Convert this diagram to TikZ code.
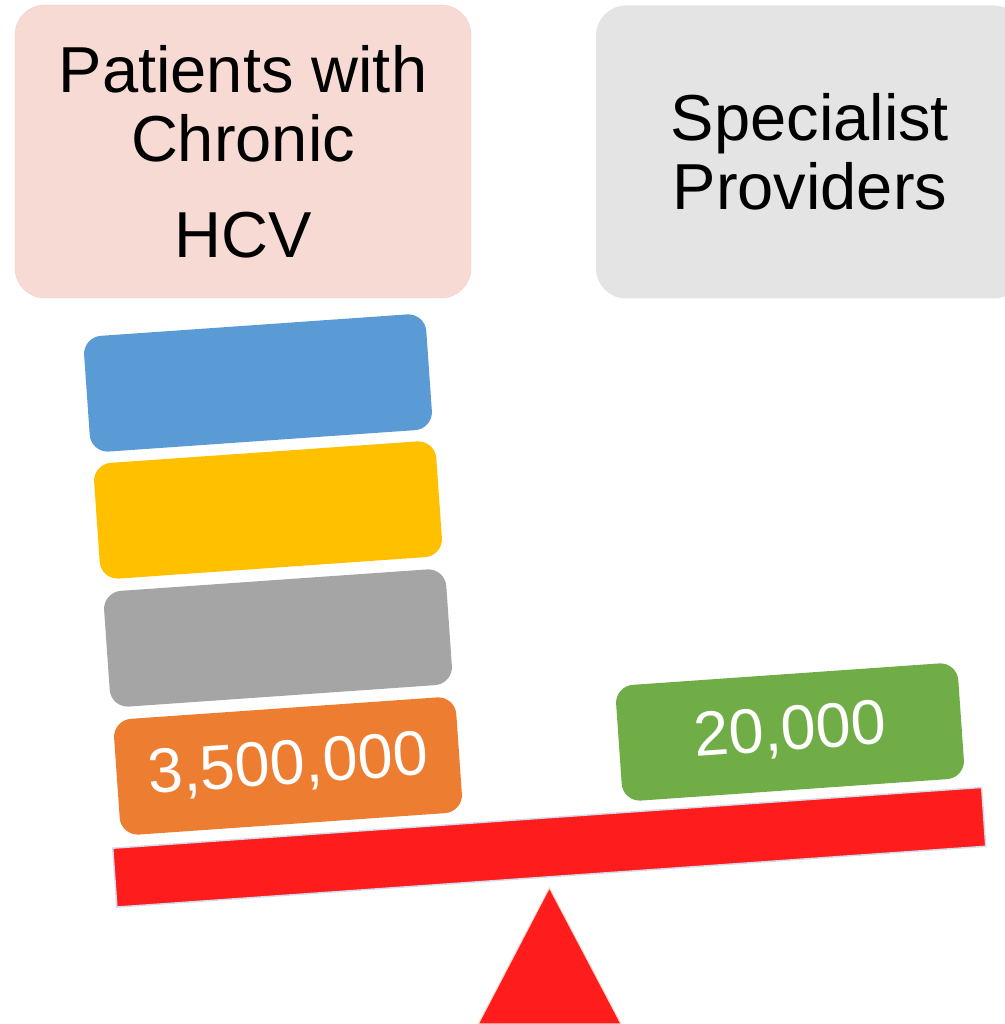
\documentclass[tikz,border=0pt]{standalone}
\usepackage{fontspec}
\setmainfont{Liberation Sans}
\usepackage{tikz}
\usetikzlibrary{positioning}

\definecolor{hdrpink}{HTML}{F8DAD4}
\definecolor{hdrpinkedge}{HTML}{F1CCC4}
\definecolor{hdrgrey}{HTML}{E4E4E4}
\definecolor{blkblue}{HTML}{5B9BD5}
\definecolor{blkyellow}{HTML}{FFC000}
\definecolor{blkgrey}{HTML}{A5A5A5}
\definecolor{blkorange}{HTML}{ED7D31}
\definecolor{blkgreen}{HTML}{70AD47}
\definecolor{beamred}{HTML}{FF1C1C}
\definecolor{beamedge}{HTML}{D3DAE8}
\definecolor{pivotedge}{HTML}{F9D6C4}

\begin{document}
\begin{tikzpicture}[x=1pt,y=1pt,
          hdr/.style={rectangle,rounded corners=30pt,minimum height=293pt,inner sep=0pt,align=center,font=\fontsize{65}{69}\selectfont},
          blk/.style={rectangle,rounded corners=18pt,minimum width=343pt,minimum height=116pt,inner sep=0pt,rotate=4,text=white,font=\fontsize{63}{70}\selectfont},
          beam/.style={rectangle,minimum width=871pt,minimum height=59pt,inner sep=0pt,rotate=4,fill=beamred,draw=beamedge,line width=1.5pt}
        ]
        \useasboundingbox (0,0) rectangle (1004,1024);
        \node[hdr,fill=hdrpink,draw=hdrpinkedge,minimum width=456pt] (patients) at (243,872.5) {Patients with\\Chronic\\[27pt]HCV};
        \node[hdr,fill=hdrgrey,minimum width=428pt] (providers) at (810,872) {Specialist\\Providers};
        \foreach\name/\col/\cx/\cy in {blue/blkblue/258/641,yellow/blkyellow/268/514,grey/blkgrey/278/386}{
          \node[blk,fill=\col] (\name) at (\cx,\cy) {};
        }
        \node[blk,fill=blkorange] (orange) at (288,258) {3,500,000};
        \node[blk,fill=blkgreen] (green) at (790,292) {20,000};
        \node[beam] (lever) at (549.25,176.75) {};
        \coordinate (apex) at (549.4,136);
        \fill[beamred,draw=pivotedge,line width=1pt] (478.4,0) -- (apex) -- (621,0) -- cycle;
      \end{tikzpicture}
\end{document}
